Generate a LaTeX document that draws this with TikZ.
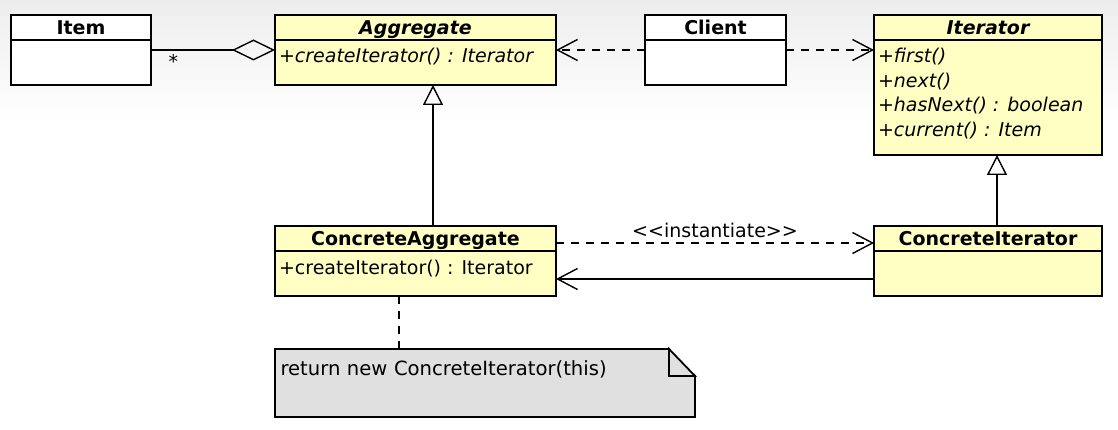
\documentclass[tikz,border=0pt]{standalone}
\usepackage{fontspec}
\setmainfont{DejaVu Sans}
\usetikzlibrary{arrows.meta}
\definecolor{umlyellow}{RGB}{255,255,195}
\definecolor{notegray}{RGB}{224,224,224}
\newcommand{\umlfont}{\fontsize{19}{24.5}\selectfont}

\begin{document}
\begin{tikzpicture}[x=1pt, y=-1pt]
\tikzset{
  every node/.style={font=\umlfont},
  box/.style={draw, line width=1.8pt, fill=umlyellow, anchor=north west, inner sep=0pt, outer sep=0pt},
  head/.style={box, text height=20pt, text depth=5pt, minimum height=25pt, font=\umlfont\bfseries},
  abstract/.style={head, font=\umlfont\bfseries\itshape},
  members/.style={anchor=north west, inner xsep=4pt, inner ysep=0pt, outer sep=0pt, text height=23pt, align=left},
  note/.style={draw, line width=1.8pt, fill=notegray, anchor=north west, inner xsep=5.5pt, inner ysep=0pt, outer sep=0pt,
    text width=409pt, text height=26pt, text depth=42pt, align=left, font=\fontsize{19.6}{24.5}\selectfont},
  link/.style={line width=1.4pt},
  dep/.style={link, dash pattern=on 8pt off 7pt, -{Straight Barb[length=20pt, width=21pt]}},
  assoc/.style={link, -{Straight Barb[length=20pt, width=21pt]}},
  inherit/.style={link, -{Triangle[open, length=20pt, width=20pt]}},
}
\useasboundingbox (0,0) rectangle (1118,430);
\fill[white] (0,0) rectangle (1118,430);
\shade[top color=black!7, bottom color=white] (0,0) rectangle (1118,120);

% classes
\node[head, fill=white, minimum width=140pt] (item) at (11,15) {Item};
\node[box, fill=white, minimum width=140pt, minimum height=45pt] (itemb) at (item.south west) {};

\node[abstract, minimum width=281pt] (agg) at (275,15) {Aggregate};
\node[box, minimum width=281pt, minimum height=45pt] (aggb) at (agg.south west) {};
\node[members, font=\umlfont\itshape] (aggm) at (aggb.north west) {+createIterator() : Iterator};

\node[head, fill=white, minimum width=141pt] (client) at (645,15) {Client};
\node[box, fill=white, minimum width=141pt, minimum height=45pt] (clientb) at (client.south west) {};

\node[abstract, minimum width=228pt] (iter) at (874,15) {Iterator};
\node[box, minimum width=228pt, minimum height=115pt] (iterb) at (iter.south west) {};
\node[members, font=\umlfont\itshape, text height=96.5pt] (iterm) at (iterb.north west)
  {+first()\\+next()\\+hasNext() : boolean\\+current() : Item};

\node[head, minimum width=281pt] (cagg) at (275,226) {ConcreteAggregate};
\node[box, minimum width=281pt, minimum height=45pt] (caggb) at (cagg.south west) {};
\node[members] (caggm) at (caggb.north west) {+createIterator() : Iterator};

\node[head, minimum width=228pt] (citer) at (874,226) {ConcreteIterator};
\node[box, minimum width=228pt, minimum height=45pt] (citerb) at (citer.south west) {};

% note with folded corner
\node[note] (note) at (275,349) {return new ConcreteIterator(this)};
\fill[white] ([shift={(-26pt,1.5pt)}]note.north east) -- ([shift={(1.5pt,1.5pt)}]note.north east)
  -- ([shift={(1.5pt,-27pt)}]note.north east) -- cycle;
\draw[line width=1.8pt] ([xshift=-26pt]note.north east) |- ([yshift=-27pt]note.north east) -- cycle;

% relations
\draw[link, {Diamond[open, length=43pt, width=21pt]}-] ([yshift=-10pt]aggb.north west) -- ([yshift=-10pt]itemb.north east)
  node[pos=0.82, below] {*};
\draw[dep] ([yshift=-10pt]clientb.north west) -- ([yshift=-10pt]aggb.north east);
\draw[dep] ([yshift=-10pt]clientb.north east) -- ([yshift=-10pt]iterb.north west);
\draw[inherit] ([xshift=17.5pt]cagg.north) -- ([xshift=17.5pt]aggb.south);
\draw[inherit] ([xshift=9pt]citer.north) -- ([xshift=9pt]iterb.south);
\draw[dep] ([yshift=-17pt]cagg.north east) -- ([yshift=-17pt]citer.north west)
  node[midway, anchor=base, yshift=5pt] {<\kern0pt<instantiate>\kern0pt>};
\draw[assoc] ([yshift=-28pt]citerb.north west) -- ([yshift=-28pt]caggb.north east);
\draw[link, dash pattern=on 8pt off 7pt] ([xshift=-16.5pt]caggb.south) -- ([xshift=-16.5pt]caggb.south |- note.north);
%\draw[help lines] (0,0) grid (1118,430);
\end{tikzpicture}
\end{document}
